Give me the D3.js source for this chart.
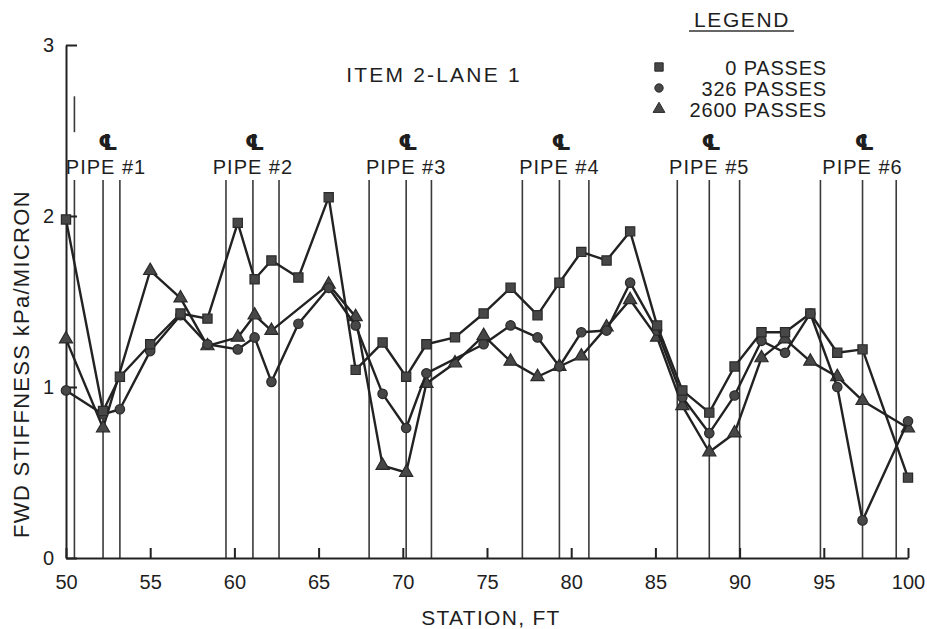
<!DOCTYPE html>
<html>
<head>
<meta charset="utf-8">
<script src="https://cdn.jsdelivr.net/npm/d3@7"></script>
<style>
  body { margin: 0; background: #fff; }
  text { font-family: "Liberation Sans", Arial, sans-serif; fill: #1e1e1e; }
</style>
</head>
<body>
<div id="chart"></div>
<script>
// station (ft) shared by all three series
var stations = [50.0, 52.2, 53.2, 55.0, 56.8, 58.4, 60.2, 61.2, 62.2, 63.8, 65.6,
                67.2, 68.8, 70.2, 71.4, 73.1, 74.8, 76.4, 78.0, 79.3, 80.6, 82.1,
                83.5, 85.1, 86.6, 88.2, 89.7, 91.3, 92.7, 94.2, 95.8, 97.3, 100.0];

// FWD stiffness, kPa/micron (null = no reading)
var passes0 = [1.98, 0.86, 1.06, 1.25, 1.43, 1.40, 1.96, 1.63, 1.74, 1.64, 2.11,
               1.10, 1.26, 1.06, 1.25, 1.29, 1.43, 1.58, 1.42, 1.61, 1.79, 1.74,
               1.91, 1.36, 0.98, 0.85, 1.12, 1.32, 1.32, 1.43, 1.20, 1.22, 0.47];
var passes326 = [0.98, 0.84, 0.87, 1.21, 1.42, 1.25, 1.22, 1.29, 1.03, 1.37, 1.58,
                 1.36, 0.96, 0.76, 1.08, null, 1.25, 1.36, 1.29, 1.12, 1.32, 1.33,
                 1.61, 1.33, 0.94, 0.73, 0.95, 1.27, 1.20, 1.43, 1.00, 0.22, 0.80];
var passes2600 = [1.28, 0.76, null, 1.68, 1.52, 1.24, 1.29, 1.42, 1.33, null, 1.60,
                  1.41, 0.54, 0.50, 1.02, 1.14, 1.30, 1.15, 1.06, 1.12, 1.18, 1.35,
                  1.51, 1.29, 0.89, 0.62, 0.73, 1.17, 1.28, 1.15, 1.06, 0.92, 0.76];

var seriesNames = ["0 PASSES", "326 PASSES", "2600 PASSES"];
var xTicks = [50, 55, 60, 65, 70, 75, 80, 85, 90, 95, 100];
var yTicks = [0, 1, 2, 3];

// pipe edges and centre lines (station, ft)
var pipeNames = ["PIPE #1", "PIPE #2", "PIPE #3", "PIPE #4", "PIPE #5", "PIPE #6"];
var pipeLeft = [50.5, 59.5, 68.0, 77.1, 86.3, 94.8];
var pipeCenter = [52.2, 61.1, 70.2, 79.3, 88.2, 97.3];
var pipeRight = [53.2, 62.65, 71.7, 81.05, 90.0, 99.3];

var width = 927, height = 629;

var svg = d3.select("#chart")
  .append("svg")
    .attr("width", width)
    .attr("height", height);

var x = d3.scaleLinear().domain([50, 100]).range([66, 908]);
var y = d3.scaleLinear().domain([0, 3]).range([558, 45]);

// pipe reference lines
var pipeLines = pipeLeft.concat(pipeCenter, pipeRight);
svg.append("g")
  .selectAll("line")
  .data(pipeLines)
  .enter()
  .append("line")
    .attr("x1", function (d) { return x(d); })
    .attr("x2", function (d) { return x(d); })
    .attr("y1", y(2.21))
    .attr("y2", y(0))
    .style("stroke", "#3a3a3a")
    .style("stroke-width", 1.6);

// short stub above the first pipe label
svg.append("line")
  .attr("x1", x(pipeLeft[0])).attr("x2", x(pipeLeft[0]))
  .attr("y1", y(2.70)).attr("y2", y(2.49))
  .style("stroke", "#3a3a3a")
  .style("stroke-width", 1.6);

// pipe labels and centre-line symbols
var pipeG = svg.append("g")
  .selectAll("g")
  .data(pipeNames)
  .enter()
  .append("g")
    .attr("transform", function (d, i) { return "translate(" + (x(pipeCenter[i]) + (i === 0 ? 3 : 0)) + ",0)"; });

pipeG.append("text")
  .attr("y", 174)
  .attr("text-anchor", "middle")
  .style("font-size", "20px")
  .style("letter-spacing", "1px")
  .text(function (d) { return d; });

// centre-line mark
pipeG.append("text")
  .attr("x", 2)
  .attr("y", 150)
  .attr("text-anchor", "middle")
  .style("font-family", "'DejaVu Sans', sans-serif")
  .style("font-size", "22px")
  .style("font-weight", "bold")
  .text("\u2104");

// axes
var xAxis = svg.append("g")
  .attr("transform", "translate(0," + y(0) + ")")
  .call(d3.axisBottom(x).tickValues(xTicks).tickSizeInner(-10).tickSizeOuter(0).tickPadding(17));
var yAxis = svg.append("g")
  .attr("transform", "translate(" + x(50) + ",0)")
  .call(d3.axisLeft(y).tickValues(yTicks).tickSizeInner(-11).tickSizeOuter(0).tickPadding(12)
        .tickFormat(d3.format("d")));

[xAxis, yAxis].forEach(function (a) {
  a.selectAll("path, line").style("stroke", "#222").style("stroke-width", 2);
  a.selectAll("text")
    .style("font-family", "'Liberation Sans', Arial, sans-serif")
    .style("font-size", "20px")
    .style("fill", "#1e1e1e");
});

// axis titles
svg.append("text")
  .attr("x", 491)
  .attr("y", 625)
  .attr("text-anchor", "middle")
  .style("font-size", "21px")
  .style("letter-spacing", "1.3px")
  .text("STATION, FT");

svg.append("text")
  .attr("transform", "translate(29,364) rotate(-90)")
  .attr("text-anchor", "middle")
  .style("font-size", "22px")
  .style("letter-spacing", "1.3px")
  .text("FWD STIFFNESS kPa/MICRON");

// chart title
svg.append("text")
  .attr("x", 434)
  .attr("y", 82)
  .attr("text-anchor", "middle")
  .style("font-size", "21px")
  .style("letter-spacing", "2.2px")
  .text("ITEM 2-LANE 1");

// series
var series = [
  {name: seriesNames[0], values: passes0, shape: d3.symbolSquare, size: 85},
  {name: seriesNames[1], values: passes326, shape: d3.symbolCircle, size: 70},
  {name: seriesNames[2], values: passes2600, shape: d3.symbolTriangle, size: 75}
];

var line = d3.line()
  .x(function (d) { return x(d.s); })
  .y(function (d) { return y(d.v); });

series.slice().reverse().forEach(function (ser) {
  var pts = stations.map(function (s, i) { return {s: s, v: ser.values[i]}; })
    .filter(function (d) { return d.v !== null; });

  svg.append("path")
    .datum(pts)
    .attr("d", line)
    .style("fill", "none")
    .style("stroke", "#222")
    .style("stroke-width", 2.4)
    .style("stroke-linejoin", "round");

  svg.append("g")
    .selectAll("path")
    .data(pts)
    .enter()
    .append("path")
      .attr("transform", function (d) { return "translate(" + x(d.s) + "," + y(d.v) + ")"; })
      .attr("d", d3.symbol().type(ser.shape).size(ser.size))
      .style("fill", "#474747")
      .style("stroke", "#2a2a2a")
      .style("stroke-width", 1.2);
});

// legend
svg.append("text")
  .attr("x", 742)
  .attr("y", 27)
  .attr("text-anchor", "middle")
  .style("font-size", "21px")
  .style("letter-spacing", "1.6px")
  .text("LEGEND");
svg.append("line")
  .attr("x1", 689).attr("x2", 794)
  .attr("y1", 31).attr("y2", 31)
  .style("stroke", "#333")
  .style("stroke-width", 1.5);

var legendRows = [67, 88, 109];
var leg = svg.append("g")
  .selectAll("g")
  .data(series)
  .enter()
  .append("g")
    .attr("transform", function (d, i) { return "translate(0," + legendRows[i] + ")"; });

leg.append("path")
  .attr("transform", "translate(659,0)")
  .attr("d", function (d) { return d3.symbol().type(d.shape).size(d.size - 15)(); })
  .style("fill", "#474747")
  .style("stroke", "#2a2a2a");

leg.append("text")
  .attr("x", 827)
  .attr("y", 8)
  .attr("text-anchor", "end")
  .style("font-size", "20px")
  .style("letter-spacing", "0.8px")
  .text(function (d) { return d.name; });
</script>
</body>
</html>
